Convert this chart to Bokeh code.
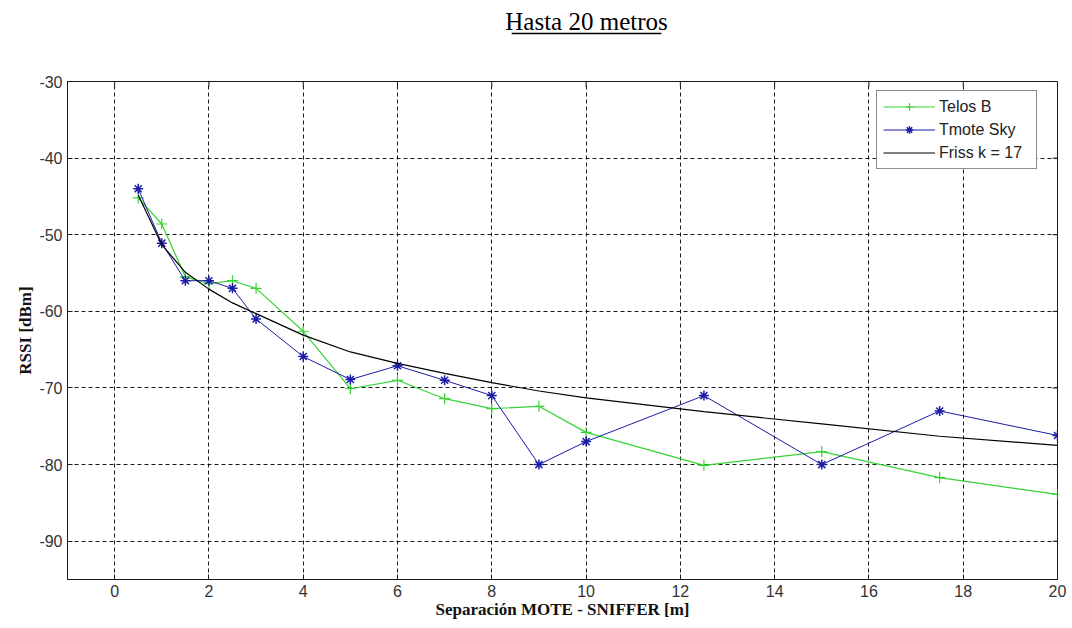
from bokeh.plotting import figure
from bokeh.models import (ColumnDataSource, Legend, LegendItem, FixedTicker, Range1d)
from bokeh.layouts import column
from bokeh.core.properties import value
from bokeh.embed import file_html
from bokeh.resources import INLINE

# ---- data ----
distance_m = [0.5, 1, 1.5, 2, 2.5, 3, 4, 5, 6, 7, 8, 9, 10, 12.5, 15, 17.5, 20]
telos_b = [-45.2, -48.6, -55.5, -56.4, -56.0, -57.0, -62.6, -70.1, -69.0, -71.4,
           -72.7, -72.4, -75.8, -80.1, -78.3, -81.7, -83.9]
tmote_sky = [-44.0, -51.1, -56.0, -56.0, -57.0, -61.0, -65.9, -68.9, -67.1, -69.0,
             -71.0, -80.0, -77.0, -71.0, -80.0, -73.0, -76.2]
friss_k17 = [-44.8, -51.3, -54.9, -57.1, -58.9, -60.3, -63.1, -65.3, -66.8, -68.1,
             -69.3, -70.4, -71.3, -73.1, -74.7, -76.3, -77.5]
x_ticks = [0, 2, 4, 6, 8, 10, 12, 14, 16, 18, 20]
y_ticks = [-90, -80, -70, -60, -50, -40, -30]
x_lim = (-1, 20)
y_lim = (-95, -30)

title_text = "Hasta 20 metros"
x_label = "Separación MOTE - SNIFFER [m]"
y_label = "RSSI [dBm]"

W, H_TITLE, H_MAIN = 1072, 50, 578

# ---- title strip (text + underline), canvas-like coordinates ----
t = figure(width=W, height=H_TITLE, output_backend="svg", toolbar_location=None,
           x_range=Range1d(0, W), y_range=Range1d(0, H_TITLE),
           x_axis_location=None, y_axis_location=None,
           min_border=0, title=None)
t.grid.visible = False
t.outline_line_color = None
t.background_fill_color = "white"
t.border_fill_color = "white"
t.text(x=[562], y=[H_TITLE - 21], text=[title_text], text_font=value("Liberation Serif"),
       text_font_size="25px", text_color="black", text_align="center",
       text_baseline="alphabetic")
t.segment(x0=[481], y0=[H_TITLE - 33], x1=[643], y1=[H_TITLE - 33],
          line_color="black", line_width=1.5)

# ---- main plot ----
src = ColumnDataSource(dict(x=distance_m, telos=telos_b, tmote=tmote_sky, friss=friss_k17))

p = figure(width=W, height=H_MAIN, output_backend="svg", toolbar_location=None,
           x_range=Range1d(*x_lim), y_range=Range1d(*y_lim), title=None,
           min_border_left=67, min_border_right=15, min_border_top=31, min_border_bottom=49)
p.background_fill_color = "white"
p.border_fill_color = "white"
p.outline_line_color = "#1a1a1a"
p.outline_line_width = 1

for ax in (p.xaxis[0], p.yaxis[0]):
    ax.major_label_text_font = "Liberation Sans"
    ax.major_label_text_font_size = "16px"
    ax.major_label_text_color = "#333333"
    ax.axis_line_color = "#1a1a1a"
    ax.major_tick_line_color = "#1a1a1a"
    ax.major_tick_in = 5
    ax.major_tick_out = 0
    ax.minor_tick_line_color = None
    ax.axis_label_text_font = "Liberation Serif"
    ax.axis_label_text_font_style = "bold"
    ax.axis_label_text_font_size = "17px"
    ax.axis_label_text_color = "#111111"
    ax.major_label_standoff = 5

p.xaxis[0].ticker = FixedTicker(ticks=x_ticks)
p.yaxis[0].ticker = FixedTicker(ticks=y_ticks)
p.xaxis[0].major_label_overrides = {v: str(v) for v in x_ticks}
p.yaxis[0].major_label_overrides = {v: str(v) for v in y_ticks}
p.xaxis[0].axis_label = x_label
p.yaxis[0].axis_label = y_label
p.xaxis[0].axis_label_standoff = 0
p.yaxis[0].axis_label_standoff = 1

for g in (p.xgrid[0], p.ygrid[0]):
    g.grid_line_color = "black"
    g.grid_line_dash = "4 3"
    g.grid_line_width = 1
    g.grid_line_alpha = 0.9
p.xgrid[0].ticker = FixedTicker(ticks=x_ticks)
p.ygrid[0].ticker = FixedTicker(ticks=y_ticks)

# mirrored inward ticks on the top and right edges (5 px long)
frame_w = W - 67 - 15
frame_h = H_MAIN - 31 - 49
tick_dy = 5 * (y_lim[1] - y_lim[0]) / frame_h
tick_dx = 5 * (x_lim[1] - x_lim[0]) / frame_w
p.segment(x0=x_ticks, y0=[y_lim[1]] * len(x_ticks), x1=x_ticks,
          y1=[y_lim[1] - tick_dy] * len(x_ticks), line_color="#1a1a1a", line_width=1)
p.segment(x0=[x_lim[1]] * len(y_ticks), y0=y_ticks, x1=[x_lim[1] - tick_dx] * len(y_ticks),
          y1=y_ticks, line_color="#1a1a1a", line_width=1)

GREEN = "#35d535"
BLUE = "#1c1ca8"

l1 = p.line("x", "telos", source=src, line_color=GREEN, line_width=1.2)
m1 = p.scatter("x", "telos", source=src, marker="cross", size=11, line_color=GREEN, line_width=1.2)
l2 = p.line("x", "tmote", source=src, line_color=BLUE, line_width=1)
m2 = p.scatter("x", "tmote", source=src, marker="asterisk", size=10, line_color=BLUE, line_width=1.5)
l3 = p.line("x", "friss", source=src, line_color="black", line_width=1.2)

legend = Legend(items=[LegendItem(label="Telos B", renderers=[l1, m1]),
                       LegendItem(label="Tmote Sky", renderers=[l2, m2]),
                       LegendItem(label="Friss k = 17", renderers=[l3])],
                location=(809, 410))
legend.label_text_font = "Liberation Sans"
legend.label_text_font_size = "16px"
legend.label_text_color = "#222222"
legend.glyph_width = 52
legend.glyph_height = 19
legend.label_height = 19
legend.label_width = 91
legend.label_standoff = 4
legend.spacing = 4
legend.padding = 6
legend.margin = 0
legend.border_line_color = "#1a1a1a"
legend.border_line_width = 1
legend.background_fill_color = "white"
legend.background_fill_alpha = 1
p.add_layout(legend, "center")

layout = column(t, p, spacing=0)
open("out.html", "w").write(file_html(layout, INLINE))
